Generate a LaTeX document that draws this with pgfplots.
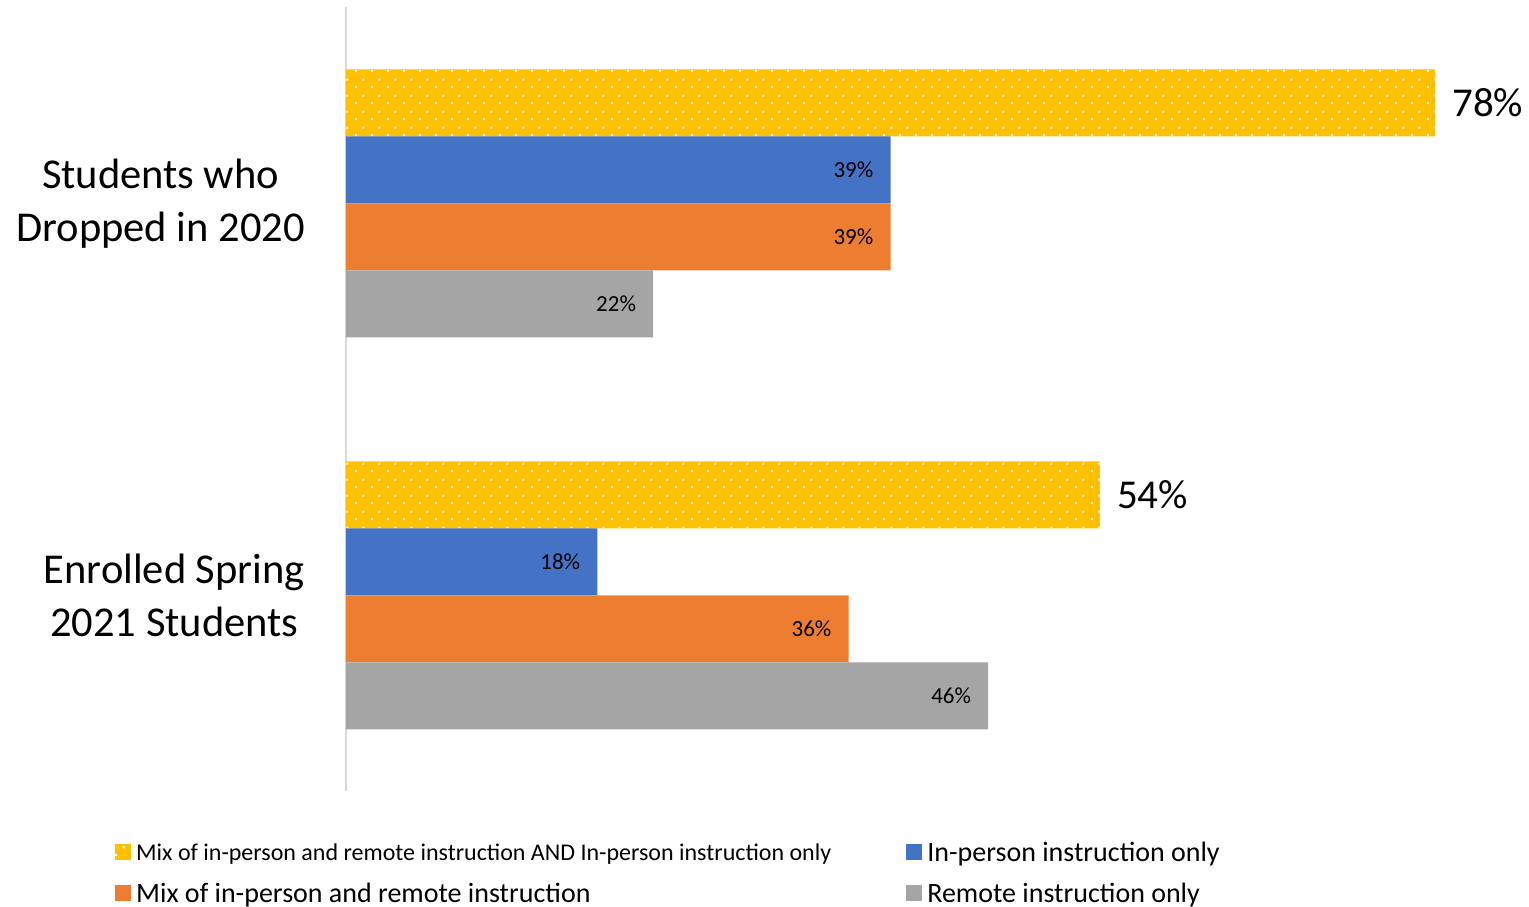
\documentclass[border=0pt]{standalone}
\usepackage{fontspec}
\setmainfont{Carlito}
\usepackage{pgfplots}
\pgfplotsset{compat=1.18}
\usetikzlibrary{patterns}
\definecolor{cyel}{HTML}{FFC000}
\definecolor{cblue}{HTML}{4472C4}
\definecolor{corange}{HTML}{ED7D31}
\definecolor{cgray}{HTML}{A5A5A5}
\pgfdeclarepatternformonly{sqdots}{\pgfqpoint{0pt}{0pt}}{\pgfqpoint{16pt}{16pt}}{\pgfqpoint{16pt}{16pt}}{%
 \pgfpathrectangle{\pgfqpoint{3pt}{3pt}}{\pgfqpoint{2.2pt}{2.2pt}}%
 \pgfpathrectangle{\pgfqpoint{11pt}{11pt}}{\pgfqpoint{2.2pt}{2.2pt}}%
 \pgfusepath{fill}}
\begin{document}
\begin{tikzpicture}
\useasboundingbox (0,0) rectangle (1529pt,907pt);
\begin{axis}[
  at={(346pt,115.5pt)}, anchor=south west,
  scale only axis, width=1117pt, height=784pt,
  xbar, bar width=67pt,
  xmin=0, xmax=80, ymin=-0.5, ymax=1.5,
  axis x line=none, axis y line=left,
  axis line style={-, draw=black!15, line width=2pt},
  ytick={0,1},
  yticklabels={{Enrolled Spring\\2021 Students},{Students who\\Dropped in 2020}},
  major tick length=0pt,
  yticklabel style={align=center, anchor=east, inner sep=0pt, xshift=-41pt,
    font=\fontsize{42.5}{53}\selectfont},
  point meta=x, clip=false,
  /pgf/number format/assume math mode=true,
  legend columns=2,
  legend cell align=left,
  legend image code/.code={\fill[#1,draw=none] (0pt,-8pt) rectangle (16pt,8pt);},
  legend style={at={(-0.2095,-0.059)}, anchor=north west, draw=none, fill=none,
    font=\fontsize{28}{34}\selectfont, row sep=16pt,
    /tikz/every odd column/.append style={column sep=3pt},
    /tikz/every even column/.append style={column sep=73pt}},
]
\addplot[fill=cyel, draw=none, bar shift=100.5pt,
  postaction={pattern=sqdots, pattern color=white},
  nodes near coords={\pgfmathprintnumber{\pgfplotspointmeta}\%},
  nodes near coords style={anchor=west, xshift=17pt, inner sep=0pt, text=black,
    font=\fontsize{41}{48}\selectfont}]
  coordinates {(78,1) (54,0)};
\addlegendentry{\fontsize{24}{29}\selectfont Mix of in-person and remote instruction AND In-person instruction only}
\addplot[fill=cblue, draw=none, bar shift=33.5pt,
  nodes near coords={\pgfmathprintnumber{\pgfplotspointmeta}\%},
  nodes near coords style={anchor=east, xshift=-17pt, inner sep=0pt, text=black,
    font=\fontsize{23}{27}\selectfont}]
  coordinates {(39,1) (18,0)};
\addlegendentry{In-person instruction only}
\addplot[fill=corange, draw=none, bar shift=-33.5pt,
  nodes near coords={\pgfmathprintnumber{\pgfplotspointmeta}\%},
  nodes near coords style={anchor=east, xshift=-17pt, inner sep=0pt, text=black,
    font=\fontsize{23}{27}\selectfont}]
  coordinates {(39,1) (36,0)};
\addlegendentry{Mix of in-person and remote instruction}
\addplot[fill=cgray, draw=none, bar shift=-100.5pt,
  nodes near coords={\pgfmathprintnumber{\pgfplotspointmeta}\%},
  nodes near coords style={anchor=east, xshift=-17pt, inner sep=0pt, text=black,
    font=\fontsize{23}{27}\selectfont}]
  coordinates {(22,1) (46,0)};
\addlegendentry{Remote instruction only}
\end{axis}
\end{tikzpicture}
\end{document}
